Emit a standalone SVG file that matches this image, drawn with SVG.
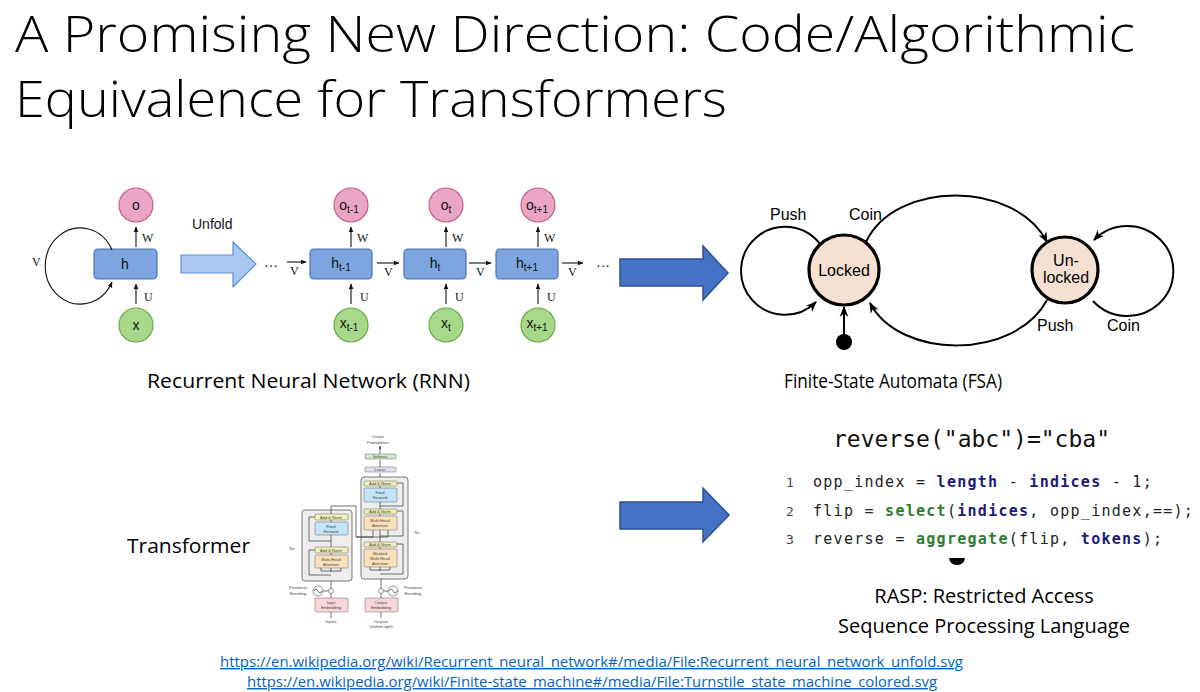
<svg xmlns="http://www.w3.org/2000/svg" width="1200" height="692" viewBox="0 0 1200 692">
<style>
.title{font-family:"Open Sans","Liberation Sans",sans-serif;font-weight:300;font-size:50px;fill:#000}
.cap{font-family:"Open Sans","Liberation Sans",sans-serif;font-size:20px;fill:#000}
.lbl{font-family:"Liberation Sans",Arial,sans-serif;font-size:14px;fill:#111}
.ser{font-family:"Liberation Serif","Times New Roman",serif;font-size:12px;fill:#111}
.pink{fill:#eba6c6;stroke:#c25f8d;stroke-width:1.2}
.green{fill:#a8d98a;stroke:#6aa84f;stroke-width:1.2}
.hbox{fill:#7da5e0;stroke:#4b73b3;stroke-width:1.2}
.ln{stroke:#111;stroke-width:1.1;fill:none}
.fsa{fill:#f5e0d1;stroke:#000;stroke-width:3.2}
.fl{stroke:#000;stroke-width:2;fill:none}
.ft{font-family:"Liberation Sans",Arial,sans-serif;font-size:16px;fill:#000}
.big{fill:#4472c4;stroke:#2f528f;stroke-width:1.5}
.code{font-family:"DejaVu Sans Mono","Liberation Mono",monospace;font-size:15px;letter-spacing:1.27px;fill:#222;white-space:pre}
.kw{font-weight:bold;fill:#1c1c78}
.fn{font-weight:bold;fill:#2e7d32}
.num{font-family:"DejaVu Sans Mono","Liberation Mono",monospace;font-size:13px;fill:#444}
.url{font-family:"Open Sans","Liberation Sans",sans-serif;font-size:14px;fill:#0563c1;text-decoration:underline}
.tt{font-family:"Liberation Sans",Arial,sans-serif;font-size:4px;fill:#444;text-anchor:middle}
.tl{stroke:#333;stroke-width:0.7;fill:none}
</style>
<defs>
<marker id="ah" viewBox="0 0 10 10" refX="9" refY="5" markerWidth="6" markerHeight="6" orient="auto" markerUnits="userSpaceOnUse">
<path d="M0,1 L10,5 L0,9 z" fill="#111"/>
</marker>
<marker id="fa" viewBox="0 0 10 10" refX="9" refY="5" markerWidth="11" markerHeight="11" orient="auto" markerUnits="userSpaceOnUse">
<path d="M0,1 L10,5 L0,9 L3,5 z" fill="#000"/>
</marker>
<marker id="ta" viewBox="0 0 10 10" refX="9" refY="5" markerWidth="3" markerHeight="3" orient="auto" markerUnits="userSpaceOnUse">
<path d="M0,1 L10,5 L0,9 z" fill="#333"/>
</marker>
</defs>

<!-- Title -->
<text class="title" x="15" y="52" textLength="1120" lengthAdjust="spacingAndGlyphs">A Promising New Direction: Code/Algorithmic</text>
<text class="title" x="15" y="117" textLength="712" lengthAdjust="spacingAndGlyphs">Equivalence for Transformers</text>

<!-- RNN -->
<g id="rnn-folded">
<circle class="pink" cx="136" cy="205" r="17"/>
<text class="lbl" x="136" y="210" text-anchor="middle">o</text>
<rect class="hbox" x="94" y="249" width="63" height="30" rx="4"/>
<text class="lbl" x="125" y="269" text-anchor="middle">h</text>
<circle class="green" cx="136" cy="325" r="17"/>
<text class="lbl" x="136" y="330" text-anchor="middle">x</text>
</g>
<g id="rnn-unfold">
<text class="lbl" x="192" y="229">Unfold</text>
<polygon points="181,255 233,255 233,242 256,264 233,287 233,273 181,273" fill="#a9c7f0" stroke="#5b8fd6" stroke-width="1.2" stroke-linejoin="round"/>
<text class="lbl" x="264" y="270">···</text>
<text class="lbl" x="596" y="270">···</text>
</g>
<g id="rnn-t-1">
<circle class="pink" cx="351" cy="205" r="17"/>
<text class="lbl" x="349" y="210" text-anchor="middle">o<tspan font-size="10" dy="3">t-1</tspan></text>
<rect class="hbox" x="310" y="249" width="62" height="30" rx="4"/>
<text class="lbl" x="341" y="268" text-anchor="middle">h<tspan font-size="10" dy="3">t-1</tspan></text>
<circle class="green" cx="351" cy="325" r="17"/>
<text class="lbl" x="349" y="328" text-anchor="middle">x<tspan font-size="10" dy="3">t-1</tspan></text>
</g>
<g id="rnn-t">
<circle class="pink" cx="446" cy="205" r="17"/>
<text class="lbl" x="446" y="210" text-anchor="middle">o<tspan font-size="10" dy="3">t</tspan></text>
<rect class="hbox" x="404" y="249" width="62" height="30" rx="4"/>
<text class="lbl" x="435" y="268" text-anchor="middle">h<tspan font-size="10" dy="3">t</tspan></text>
<circle class="green" cx="446" cy="325" r="17"/>
<text class="lbl" x="446" y="328" text-anchor="middle">x<tspan font-size="10" dy="3">t</tspan></text>
</g>
<g id="rnn-t1">
<circle class="pink" cx="538" cy="205" r="17"/>
<text class="lbl" x="537" y="210" text-anchor="middle">o<tspan font-size="10" dy="3">t+1</tspan></text>
<rect class="hbox" x="496" y="249" width="62" height="30" rx="4"/>
<text class="lbl" x="527" y="268" text-anchor="middle">h<tspan font-size="10" dy="3">t+1</tspan></text>
<circle class="green" cx="538" cy="325" r="17"/>
<text class="lbl" x="537" y="328" text-anchor="middle">x<tspan font-size="10" dy="3">t+1</tspan></text>
</g>
<g id="rnn-connectors">
<path class="ln" d="M112,250 A35,38 0 1 0 112,282" marker-end="url(#ah)"/>
<text class="ser" x="32" y="266">V</text>
<line class="ln" x1="136" y1="247" x2="136" y2="227" marker-end="url(#ah)"/>
<text class="ser" x="142" y="242">W</text>
<line class="ln" x1="136" y1="304" x2="136" y2="284" marker-end="url(#ah)"/>
<text class="ser" x="144" y="301">U</text>
<line class="ln" x1="287" y1="262" x2="306" y2="262" marker-end="url(#ah)"/>
<text class="ser" x="290" y="275">V</text>
<line class="ln" x1="351" y1="247" x2="351" y2="227" marker-end="url(#ah)"/>
<text class="ser" x="357" y="242">W</text>
<line class="ln" x1="351" y1="304" x2="351" y2="284" marker-end="url(#ah)"/>
<text class="ser" x="360" y="301">U</text>
<line class="ln" x1="377" y1="263" x2="399" y2="263" marker-end="url(#ah)"/>
<text class="ser" x="384" y="276">V</text>
<line class="ln" x1="446" y1="247" x2="446" y2="227" marker-end="url(#ah)"/>
<text class="ser" x="452" y="242">W</text>
<line class="ln" x1="446" y1="304" x2="446" y2="284" marker-end="url(#ah)"/>
<text class="ser" x="455" y="301">U</text>
<line class="ln" x1="469" y1="263" x2="491" y2="263" marker-end="url(#ah)"/>
<text class="ser" x="476" y="276">V</text>
<line class="ln" x1="538" y1="247" x2="538" y2="227" marker-end="url(#ah)"/>
<text class="ser" x="544" y="242">W</text>
<line class="ln" x1="538" y1="304" x2="538" y2="284" marker-end="url(#ah)"/>
<text class="ser" x="547" y="301">U</text>
<line class="ln" x1="562" y1="263" x2="583" y2="263" marker-end="url(#ah)"/>
<text class="ser" x="568" y="276">V</text>
</g>
<text class="cap" x="147" y="388" textLength="323" lengthAdjust="spacingAndGlyphs">Recurrent Neural Network (RNN)</text>

<!-- Big arrows -->
<g id="arrow-top"><polygon class="big" points="620,259 703,259 703,246 728,273 703,300 703,286 620,286"/></g>
<g id="arrow-bottom"><polygon class="big" points="620,502 703,502 703,488 729,515 703,542 703,529 620,529"/></g>

<!-- FSA -->
<g id="fsa-connectors">
<path class="fl" d="M820,244 A44,44 0 1 0 816,302" marker-end="url(#fa)"/>
<path class="fl" d="M1093,301 A46,45 0 1 0 1094,240" marker-end="url(#fa)"/>
<path class="fl" d="M866,242 C895,180 1015,180 1047,242" marker-end="url(#fa)"/>
<path class="fl" d="M1047,300 C1015,360 900,360 870,303" marker-end="url(#fa)"/>
<line class="fl" x1="844" y1="336" x2="844" y2="307" marker-end="url(#fa)"/>
<circle cx="844" cy="342" r="8" fill="#000"/>
</g>
<g id="fsa-locked">
<circle class="fsa" cx="844" cy="270" r="35"/>
<text class="ft" x="844" y="276" text-anchor="middle" font-size="17">Locked</text>
</g>
<g id="fsa-unlocked">
<circle class="fsa" cx="1065" cy="270" r="33"/>
<text class="ft" x="1066" y="266" text-anchor="middle" font-size="17">Un-</text>
<text class="ft" x="1066" y="283" text-anchor="middle" font-size="17">locked</text>
</g>
<text class="ft" x="770" y="220">Push</text>
<text class="ft" x="849" y="220">Coin</text>
<text class="ft" x="1037" y="331">Push</text>
<text class="ft" x="1107" y="331">Coin</text>
<text class="cap" x="784" y="388" textLength="218" lengthAdjust="spacingAndGlyphs">Finite-State Automata (FSA)</text>

<!-- Transformer -->
<text class="cap" x="127" y="553" textLength="123" lengthAdjust="spacingAndGlyphs">Transformer</text>
<g id="transformer">
<text class="tt" x="378" y="438">Output</text>
<text class="tt" x="378" y="444">Probabilities</text>
<line class="tl" x1="380" y1="454" x2="380" y2="446" marker-end="url(#ta)"/>
<rect x="365" y="454" width="31" height="5" rx="1" fill="#cfe8c8" stroke="#666" stroke-width="0.5"/>
<text class="tt" x="380" y="458" font-size="3.5">Softmax</text>
<line class="tl" x1="380" y1="467" x2="380" y2="460"/>
<rect x="365" y="467" width="31" height="5" rx="1" fill="#dfe0f2" stroke="#666" stroke-width="0.5"/>
<text class="tt" x="380" y="471" font-size="3.5">Linear</text>
<line class="tl" x1="380" y1="481" x2="380" y2="473"/>
<!-- decoder -->
<rect x="361" y="477" width="47" height="102" rx="3" fill="#eeeeee" stroke="#555" stroke-width="0.8"/>
<rect x="364" y="481" width="33" height="5" rx="1" fill="#f2f0b4" stroke="#666" stroke-width="0.5"/>
<text class="tt" x="380" y="485" font-size="3.5">Add &amp; Norm</text>
<rect x="364" y="488" width="33" height="14" rx="1" fill="#c4e4f5" stroke="#666" stroke-width="0.5"/>
<text class="tt" x="380" y="494">Feed</text>
<text class="tt" x="380" y="499">Forward</text>
<rect x="364" y="509" width="33" height="5" rx="1" fill="#f2f0b4" stroke="#666" stroke-width="0.5"/>
<text class="tt" x="380" y="513" font-size="3.5">Add &amp; Norm</text>
<rect x="364" y="516" width="33" height="14" rx="1" fill="#fbe0bb" stroke="#666" stroke-width="0.5"/>
<text class="tt" x="380" y="522">Multi-Head</text>
<text class="tt" x="380" y="527">Attention</text>
<rect x="364" y="542" width="33" height="5" rx="1" fill="#f2f0b4" stroke="#666" stroke-width="0.5"/>
<text class="tt" x="380" y="546" font-size="3.5">Add &amp; Norm</text>
<rect x="364" y="549" width="33" height="18" rx="1" fill="#fbe0bb" stroke="#666" stroke-width="0.5"/>
<text class="tt" x="380" y="555">Masked</text>
<text class="tt" x="380" y="560">Multi-Head</text>
<text class="tt" x="380" y="565">Attention</text>
<path class="tl" d="M380,567 V571 M380,570 H370 V567 M380,570 H390 V567 M380,549 V547 M380,542 V530 M380,516 V514 M380,509 V502 M380,488 V486"/>
<path class="tl" d="M380,574 H403 V544 H397 M380,536 H403 V511 H397 M380,506 H403 V483 H397"/>
<text class="tt" x="417" y="534">Nx</text>
<!-- encoder -->
<rect x="302" y="510" width="50" height="71" rx="3" fill="#eeeeee" stroke="#555" stroke-width="0.8"/>
<rect x="315" y="514" width="33" height="6" rx="1" fill="#f2f0b4" stroke="#666" stroke-width="0.5"/>
<text class="tt" x="331" y="518.5" font-size="3.5">Add &amp; Norm</text>
<rect x="315" y="522" width="33" height="13" rx="1" fill="#c4e4f5" stroke="#666" stroke-width="0.5"/>
<text class="tt" x="331" y="528">Feed</text>
<text class="tt" x="331" y="533">Forward</text>
<rect x="315" y="547" width="33" height="6" rx="1" fill="#f2f0b4" stroke="#666" stroke-width="0.5"/>
<text class="tt" x="331" y="551.5" font-size="3.5">Add &amp; Norm</text>
<rect x="315" y="555" width="33" height="13" rx="1" fill="#fbe0bb" stroke="#666" stroke-width="0.5"/>
<text class="tt" x="331" y="561">Multi-Head</text>
<text class="tt" x="331" y="566">Attention</text>
<path class="tl" d="M331,568 V572 M331,571 H321 V568 M331,571 H341 V568 M331,555 V553 M331,547 V535 M331,522 V520"/>
<path class="tl" d="M331,575 H309 V550 H315 M331,541 H309 V517 H315"/>
<path class="tl" d="M331,514 V506 H356 V537 H388 V530 M356,537 H373 V530"/>
<text class="tt" x="292" y="550">Nx</text>
<!-- embeddings -->
<circle cx="318" cy="591" r="5" fill="#fff" stroke="#555" stroke-width="0.6"/>
<path class="tl" d="M314,591 Q316,587 318,591 T322,591"/>
<circle cx="331" cy="591" r="2.5" fill="#fff" stroke="#555" stroke-width="0.6"/>
<text class="tt" x="298" y="589">Positional</text>
<text class="tt" x="298" y="595">Encoding</text>
<circle cx="393" cy="591" r="5" fill="#fff" stroke="#555" stroke-width="0.6"/>
<path class="tl" d="M389,591 Q391,587 393,591 T397,591"/>
<circle cx="381" cy="591" r="2.5" fill="#fff" stroke="#555" stroke-width="0.6"/>
<text class="tt" x="413" y="589">Positional</text>
<text class="tt" x="413" y="595">Encoding</text>
<rect x="315" y="598" width="33" height="14" rx="1" fill="#f8d6da" stroke="#666" stroke-width="0.5"/>
<text class="tt" x="331" y="604">Input</text>
<text class="tt" x="331" y="609">Embedding</text>
<rect x="365" y="598" width="33" height="14" rx="1" fill="#f8d6da" stroke="#666" stroke-width="0.5"/>
<text class="tt" x="381" y="604">Output</text>
<text class="tt" x="381" y="609">Embedding</text>
<path class="tl" d="M331,598 V593.5 M331,588.5 V581 M323,591 H328.5 M381,598 V593.5 M381,588.5 V579 M388,591 H383.5 M331,618 V612 M381,618 V612"/>
<text class="tt" x="331" y="623">Inputs</text>
<text class="tt" x="381" y="623">Outputs</text>
<text class="tt" x="381" y="628">(shifted right)</text>
</g>

<!-- RASP -->
<g id="rasp">
<text x="833" y="447" font-family="DejaVu Sans Mono,Liberation Mono,monospace" font-size="23" fill="#111" textLength="277" lengthAdjust="spacingAndGlyphs">reverse("abc")="cba"</text>
<text class="num" x="786" y="487">1</text>
<text class="num" x="786" y="516">2</text>
<text class="num" x="786" y="544">3</text>
<text class="code" x="813" y="487">opp_index = <tspan class="kw">length</tspan> - <tspan class="kw">indices</tspan> - 1;</text>
<text class="code" x="813" y="516">flip = <tspan class="fn">select</tspan>(<tspan class="kw">indices</tspan>, opp_index,==);</text>
<text class="code" x="813" y="544">reverse = <tspan class="fn">aggregate</tspan>(flip, <tspan class="kw">tokens</tspan>);</text>
<path d="M949,558 L965,558 Q964,565 957,565 Q950,565 949,558 Z" fill="#000"/>
<text class="cap" x="984" y="603" text-anchor="middle">RASP: Restricted Access</text>
<text class="cap" x="984" y="633" text-anchor="middle">Sequence Processing Language</text>
</g>

<!-- URLs -->
<text class="url" x="220" y="667" textLength="743" lengthAdjust="spacingAndGlyphs">https://en.wikipedia.org/wiki/Recurrent_neural_network#/media/File:Recurrent_neural_network_unfold.svg</text>
<text class="url" x="247" y="687" textLength="690" lengthAdjust="spacingAndGlyphs">https://en.wikipedia.org/wiki/Finite-state_machine#/media/File:Turnstile_state_machine_colored.svg</text>
</svg>
